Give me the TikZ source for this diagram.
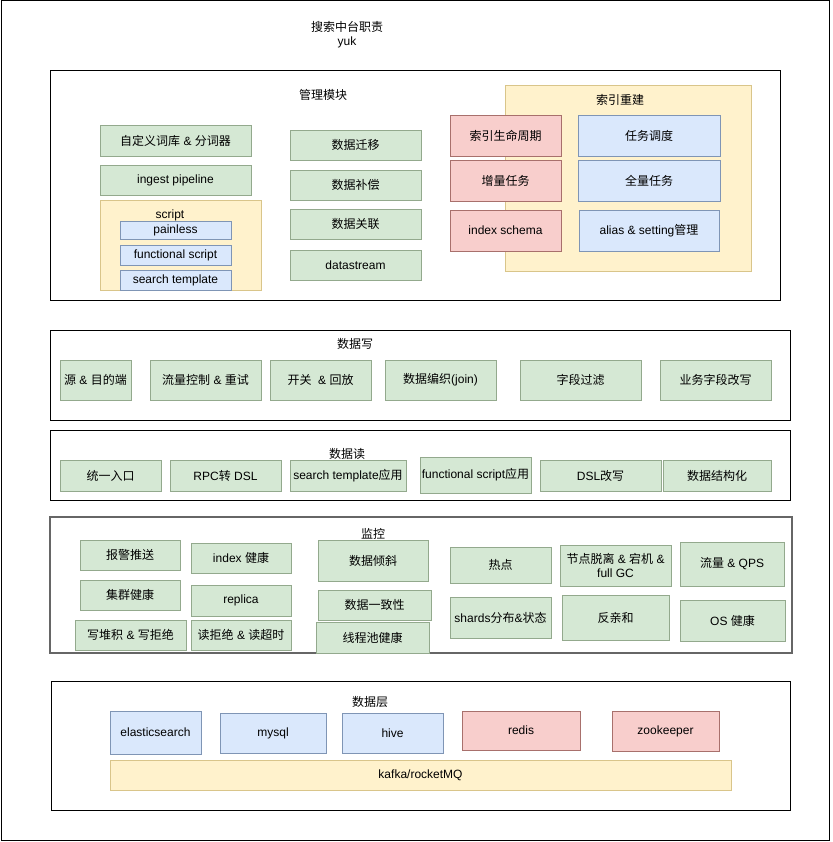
\documentclass[tikz,border=0pt]{standalone}
\usepackage{fontspec}
\setmainfont{Liberation Sans}
\newfontfamily\cjk{Noto Sans CJK SC}
\newcommand\zh[1]{{\cjk #1}}
\definecolor{gfill}{HTML}{D5E8D4}\definecolor{gline}{HTML}{93A98D}
\definecolor{bfill}{HTML}{DAE8FC}\definecolor{bline}{HTML}{7F95B5}
\definecolor{rfill}{HTML}{F8CECC}\definecolor{rline}{HTML}{A8706C}
\definecolor{yfill}{HTML}{FFF2CC}\definecolor{yline}{HTML}{D9C58A}
\tikzset{
  base/.style={inner sep=0pt, outer sep=0pt, align=center, font=\fontsize{12}{14}\selectfont},
  gbox/.style={base, draw=gline, fill=gfill, line width=0.8pt},
  bbox/.style={base, draw=bline, fill=bfill, line width=0.8pt},
  rbox/.style={base, draw=rline, fill=rfill, line width=0.8pt},
  ybox/.style={base, draw=yline, fill=yfill, line width=0.8pt},
  panel/.style={base, draw=black, line width=1pt},
  gpanel/.style={base, draw=black!60, line width=1.3pt},
  lbl/.style={base},
}
\newcommand\bx[7]{\node[#1, minimum width={#5-#3}, minimum height={#6-#4}] (#2) at ({(#3+#5)/2},{(#4+#6)/2}) {#7};}
\begin{document}
\begin{tikzpicture}[x=1pt,y=-1pt]
\useasboundingbox (0,0) rectangle (832,842);
\bx{panel}{frame}{1}{1}{829}{840}{}
\node[lbl] (title) at (347,35) {\zh{搜索中台职责}\\yuk};

% panel 1
\bx{panel}{p1}{50}{71}{780}{300}{}
\node[lbl] (l1) at (323,95) {\zh{管理模块}};
\bx{gbox}{a1}{100}{125}{251}{156}{\zh{自定义词库} \& \zh{分词器}}
\bx{gbox}{a2}{100}{165}{251}{195}{ingest pipeline}
\bx{ybox}{scr}{100}{200}{261}{290}{}
\node[lbl] (scrl) at (170,215) {script};
\bx{bbox}{s1}{120}{221}{231}{239}{painless}
\bx{bbox}{s2}{120}{245}{231}{265}{functional script}
\bx{bbox}{s3}{120}{270}{231}{290}{search template}
\bx{gbox}{m1}{290}{130}{421}{160}{\zh{数据迁移}}
\bx{gbox}{m2}{290}{170}{421}{200}{\zh{数据补偿}}
\bx{gbox}{m3}{290}{209}{421}{239}{\zh{数据关联}}
\bx{gbox}{m4}{290}{250}{421}{280}{datastream}
\bx{ybox}{rb}{505}{85}{751}{271}{}
\node[lbl] (rbl) at (620,100) {\zh{索引重建}};
\bx{rbox}{r1}{450}{115}{561}{156}{\zh{索引生命周期}}
\bx{rbox}{r2}{450}{160}{561}{201}{\zh{增量任务}}
\bx{rbox}{r3}{450}{210}{561}{251}{index schema}
\bx{bbox}{b1}{578}{115}{720}{156}{\zh{任务调度}}
\bx{bbox}{b2}{578}{160}{720}{201}{\zh{全量任务}}
\bx{bbox}{b3}{579}{210}{719}{251}{alias \& setting\zh{管理}}

% panel 2
\bx{panel}{p2}{50}{330}{790}{420}{}
\node[lbl] (l2) at (355,344) {\zh{数据写}};
\bx{gbox}{w1}{60}{360}{131}{400}{\zh{源} \& \zh{目的端}}
\bx{gbox}{w2}{150}{360}{261}{400}{\zh{流量控制} \& \zh{重试}}
\bx{gbox}{w3}{270}{360}{371}{400}{\zh{开关}\ \ \& \zh{回放}}
\bx{gbox}{w4}{385}{360}{496}{400}{\zh{数据编织}(join)}
\bx{gbox}{w5}{520}{360}{641}{400}{\zh{字段过滤}}
\bx{gbox}{w6}{660}{360}{771}{400}{\zh{业务字段改写}}

% panel 3
\bx{panel}{p3}{50}{430}{790}{500}{}
\node[lbl] (l3) at (347,454) {\zh{数据读}};
\bx{gbox}{d1}{60}{460}{161}{491}{\zh{统一入口}}
\bx{gbox}{d2}{170}{460}{281}{491}{RPC\zh{转} DSL}
\bx{gbox}{d3}{290}{460}{406}{491}{search template\zh{应用}}
\bx{gbox}{d4}{420}{457}{531}{493}{functional script\zh{应用}}
\bx{gbox}{d5}{540}{460}{661}{491}{DSL\zh{改写}}
\bx{gbox}{d6}{663}{460}{771}{491}{\zh{数据结构化}}

% panel 4
\bx{gpanel}{p4}{50}{517}{792}{653}{}
\node[lbl] (l4) at (373,534) {\zh{监控}};
\bx{gbox}{k1}{80}{540}{180}{570}{\zh{报警推送}}
\bx{gbox}{k2}{80}{580}{180}{610}{\zh{集群健康}}
\bx{gbox}{k3}{75}{620}{186}{650}{\zh{写堆积} \& \zh{写拒绝}}
\bx{gbox}{k4}{191}{543}{291}{573}{index \zh{健康}}
\bx{gbox}{k5}{191}{585}{291}{616}{replica}
\bx{gbox}{k6}{191}{620}{291}{650}{\zh{读拒绝} \& \zh{读超时}}
\bx{gbox}{k7}{318}{540}{428}{581}{\zh{数据倾斜}}
\bx{gbox}{k8}{318}{590}{431}{620}{\zh{数据一致性}}
\bx{gbox}{k9}{316}{622}{429}{653}{\zh{线程池健康}}
\bx{gbox}{k10}{450}{547}{551}{583}{\zh{热点}}
\bx{gbox}{k11}{560}{545}{671}{586}{\zh{节点脱离} \& \zh{宕机} \&\\full GC}
\bx{gbox}{k12}{680}{542}{784}{586}{\zh{流量} \& QPS}
\bx{gbox}{k13}{450}{597}{551}{638}{shards\zh{分布}\&\zh{状态}}
\bx{gbox}{k14}{562}{595}{669}{640}{\zh{反亲和}}
\bx{gbox}{k15}{680}{600}{785}{641}{OS \zh{健康}}

% panel 5
\bx{panel}{p5}{51}{681}{790}{810}{}
\node[lbl] (l5) at (370,702) {\zh{数据层}};
\bx{bbox}{e1}{110}{711}{201}{754}{elasticsearch}
\bx{bbox}{e2}{220}{713}{326}{753}{mysql}
\bx{bbox}{e3}{342}{713}{443}{753}{hive}
\bx{rbox}{e4}{462}{711}{580}{750}{redis}
\bx{rbox}{e5}{612}{711}{719}{751}{zookeeper}
\bx{ybox}{e6}{110}{760}{731}{790}{kafka/rocketMQ}
\end{tikzpicture}
\end{document}
